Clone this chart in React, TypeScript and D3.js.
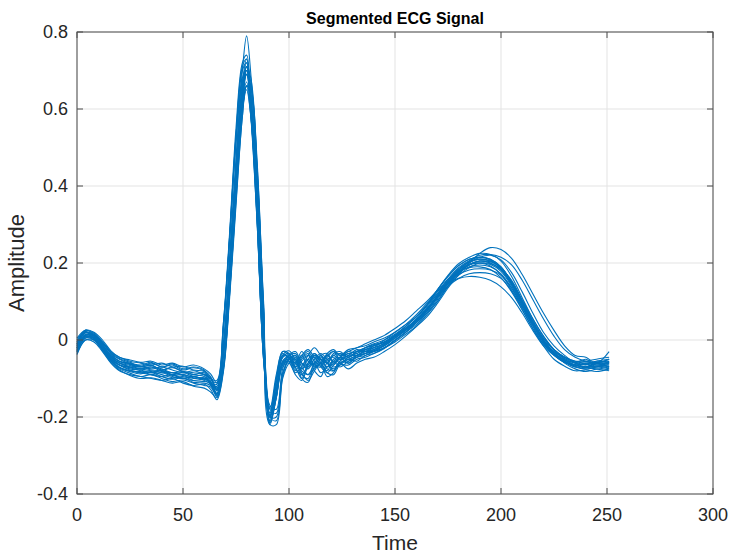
import * as d3 from "d3";

// sample positions shared by every beat (denser around the QRS complex)
const sampleIdx = [
  0, 4, 8, 12, 16, 20, 25, 30, 35, 40, 45, 50, 55, 60,
  63, 66, 69, 72, 75, 78, 80, 82, 85, 88, 91, 94, 97, 100,
  103, 106, 109, 112, 115, 118, 121, 124, 128, 132, 136, 140,
  145, 150, 155, 160, 165, 170, 175, 180, 185, 190, 195, 200, 205, 210, 215,
  220, 225, 230, 235, 240, 245, 251,
];

// one array per segmented beat (rows: baseline / QRS / post-S / T wave)
const beat01 = [
  -0.02,0.02,0.012,-0.012,-0.04,-0.055,-0.06,-0.065,-0.058,-0.07,-0.065,-0.078,-0.072,-0.08,
  -0.095,-0.125,-0.02,0.21,0.47,0.7,0.79,0.69,0.4,0.03,-0.2,-0.13,-0.045,-0.035,
  -0.06,-0.04,-0.07,-0.05,-0.045,-0.06,-0.04,-0.05,-0.035,-0.04,-0.025,-0.02,
  -0.01,0.005,0.025,0.05,0.08,0.115,0.15,0.178,0.195,0.205,0.203,0.188,0.152,0.1,0.045,0.0,-0.03,-0.045,-0.055,-0.055,-0.06,-0.05,
];
const beat02 = [
  -0.01,0.025,0.015,-0.008,-0.035,-0.05,-0.062,-0.07,-0.065,-0.078,-0.07,-0.082,-0.09,-0.085,
  -0.115,-0.12,0.03,0.27,0.53,0.71,0.73,0.61,0.31,-0.05,-0.2,-0.1,-0.04,-0.045,
  -0.08,-0.05,-0.035,-0.07,-0.06,-0.04,-0.055,-0.035,-0.045,-0.03,-0.03,-0.02,
  0.0,0.02,0.04,0.06,0.09,0.13,0.168,0.198,0.215,0.225,0.222,0.205,0.165,0.11,0.055,0.01,-0.025,-0.05,-0.065,-0.062,-0.07,-0.058,
];
const beat03 = [
  -0.03,0.008,0.005,-0.02,-0.05,-0.07,-0.08,-0.085,-0.09,-0.085,-0.095,-0.1,-0.095,-0.105,
  -0.115,-0.148,-0.075,0.13,0.38,0.62,0.71,0.68,0.46,0.09,-0.2,-0.2,-0.09,-0.05,
  -0.045,-0.09,-0.1,-0.06,-0.05,-0.075,-0.08,-0.055,-0.06,-0.045,-0.04,-0.03,
  -0.02,0.0,0.02,0.04,0.07,0.1,0.14,0.175,0.2,0.215,0.22,0.208,0.175,0.125,0.07,0.02,-0.015,-0.04,-0.06,-0.07,-0.065,-0.07,
];
const beat04 = [
  -0.015,0.02,0.01,-0.015,-0.042,-0.06,-0.07,-0.075,-0.07,-0.082,-0.09,-0.085,-0.095,-0.1,
  -0.1,-0.13,-0.03,0.19,0.44,0.64,0.71,0.63,0.38,0.01,-0.19,-0.13,-0.055,-0.04,
  -0.035,-0.06,-0.065,-0.04,-0.05,-0.07,-0.06,-0.045,-0.05,-0.04,-0.035,-0.03,
  -0.02,-0.005,0.015,0.035,0.06,0.095,0.135,0.17,0.2,0.225,0.24,0.235,0.212,0.17,0.12,0.07,0.025,-0.015,-0.04,-0.045,-0.06,-0.03,
];
const beat05 = [
  0.0,0.022,0.002,-0.025,-0.05,-0.065,-0.07,-0.068,-0.078,-0.08,-0.085,-0.092,-0.1,-0.098,
  -0.108,-0.14,-0.035,0.19,0.44,0.64,0.7,0.62,0.37,0.0,-0.21,-0.14,-0.06,-0.05,
  -0.07,-0.1,-0.06,-0.035,-0.06,-0.08,-0.05,-0.045,-0.06,-0.04,-0.03,-0.03,
  -0.012,0.01,0.03,0.055,0.09,0.13,0.165,0.193,0.21,0.215,0.208,0.185,0.145,0.095,0.04,-0.005,-0.035,-0.055,-0.068,-0.076,-0.07,-0.065,
];
const beat06 = [
  -0.025,0.012,0.012,-0.008,-0.032,-0.048,-0.058,-0.068,-0.06,-0.07,-0.062,-0.075,-0.07,-0.078,
  -0.1,-0.105,0.04,0.26,0.51,0.67,0.69,0.58,0.3,-0.04,-0.18,-0.09,-0.03,-0.04,
  -0.07,-0.045,-0.03,-0.055,-0.065,-0.04,-0.03,-0.05,-0.04,-0.025,-0.03,-0.015,
  -0.005,0.012,0.03,0.05,0.08,0.115,0.155,0.185,0.203,0.21,0.205,0.188,0.15,0.1,0.05,0.005,-0.025,-0.045,-0.055,-0.06,-0.055,-0.05,
];
const beat07 = [
  -0.038,0.0,-0.005,-0.03,-0.06,-0.08,-0.09,-0.095,-0.1,-0.105,-0.1,-0.112,-0.118,-0.115,
  -0.128,-0.155,-0.085,0.11,0.35,0.58,0.66,0.65,0.43,0.07,-0.22,-0.22,-0.1,-0.06,
  -0.05,-0.1,-0.11,-0.07,-0.065,-0.095,-0.085,-0.06,-0.075,-0.06,-0.05,-0.045,
  -0.03,-0.012,0.01,0.035,0.065,0.1,0.14,0.173,0.195,0.205,0.2,0.182,0.145,0.095,0.042,-0.002,-0.035,-0.06,-0.075,-0.082,-0.076,-0.08,
];
const beat08 = [
  -0.005,0.026,0.02,0.0,-0.028,-0.045,-0.052,-0.058,-0.055,-0.065,-0.06,-0.07,-0.065,-0.075,
  -0.088,-0.112,-0.01,0.2,0.44,0.62,0.67,0.6,0.36,0.02,-0.175,-0.12,-0.04,-0.028,
  -0.05,-0.065,-0.04,-0.02,-0.04,-0.055,-0.035,-0.03,-0.045,-0.03,-0.02,-0.012,
  -0.005,0.01,0.025,0.045,0.07,0.105,0.14,0.168,0.188,0.2,0.198,0.185,0.155,0.105,0.055,0.01,-0.025,-0.045,-0.058,-0.05,-0.065,-0.055,
];
const beat09 = [
  -0.022,0.014,0.005,-0.022,-0.052,-0.072,-0.082,-0.088,-0.084,-0.095,-0.102,-0.098,-0.11,-0.112,
  -0.118,-0.138,-0.04,0.17,0.41,0.6,0.66,0.58,0.34,-0.01,-0.215,-0.15,-0.07,-0.06,
  -0.085,-0.07,-0.05,-0.08,-0.095,-0.06,-0.07,-0.065,-0.05,-0.055,-0.04,-0.035,
  -0.022,0.0,0.02,0.045,0.075,0.11,0.145,0.173,0.19,0.195,0.19,0.172,0.135,0.085,0.035,-0.01,-0.04,-0.058,-0.065,-0.07,-0.06,-0.065,
];
const beat10 = [
  -0.01,0.02,0.01,-0.02,-0.045,-0.06,-0.066,-0.075,-0.07,-0.075,-0.085,-0.082,-0.09,-0.095,
  -0.112,-0.125,0.02,0.27,0.53,0.7,0.72,0.6,0.31,-0.04,-0.2,-0.11,-0.035,-0.05,
  -0.06,-0.03,-0.055,-0.065,-0.04,-0.035,-0.06,-0.045,-0.03,-0.035,-0.02,-0.01,
  0.0,0.015,0.035,0.06,0.09,0.125,0.158,0.178,0.188,0.19,0.183,0.162,0.125,0.078,0.03,-0.01,-0.035,-0.052,-0.06,-0.065,-0.055,-0.06,
];
const beat11 = [
  -0.035,0.0,0.0,-0.025,-0.055,-0.072,-0.08,-0.082,-0.09,-0.095,-0.09,-0.1,-0.105,-0.102,
  -0.112,-0.142,-0.04,0.19,0.45,0.66,0.72,0.63,0.38,0.0,-0.215,-0.15,-0.065,-0.055,
  -0.075,-0.09,-0.065,-0.045,-0.07,-0.085,-0.065,-0.05,-0.055,-0.045,-0.035,-0.025,
  -0.008,0.012,0.035,0.06,0.09,0.12,0.15,0.17,0.182,0.185,0.182,0.168,0.135,0.09,0.04,-0.005,-0.035,-0.058,-0.07,-0.07,-0.075,-0.07,
];
const beat12 = [
  -0.015,0.02,0.015,-0.005,-0.035,-0.055,-0.062,-0.068,-0.075,-0.07,-0.078,-0.085,-0.08,-0.09,
  -0.098,-0.128,-0.065,0.14,0.38,0.61,0.7,0.67,0.45,0.1,-0.17,-0.18,-0.075,-0.04,
  -0.03,-0.06,-0.075,-0.05,-0.035,-0.05,-0.065,-0.045,-0.035,-0.03,-0.025,-0.015,
  -0.005,0.01,0.03,0.05,0.08,0.11,0.14,0.16,0.172,0.175,0.172,0.16,0.128,0.085,0.04,0.0,-0.03,-0.048,-0.06,-0.055,-0.05,-0.045,
];
const beat13 = [
  -0.02,0.01,0.0,-0.02,-0.05,-0.065,-0.072,-0.08,-0.085,-0.08,-0.09,-0.1,-0.095,-0.102,
  -0.108,-0.132,-0.03,0.19,0.44,0.64,0.69,0.61,0.36,-0.005,-0.2,-0.14,-0.06,-0.045,
  -0.05,-0.075,-0.06,-0.04,-0.055,-0.045,-0.03,-0.04,-0.025,-0.02,-0.01,0.0,
  0.012,0.03,0.05,0.075,0.1,0.128,0.148,0.16,0.165,0.163,0.155,0.138,0.11,0.07,0.025,-0.015,-0.04,-0.058,-0.065,-0.06,-0.065,-0.06,
];
const beat14 = [
  -0.03,0.005,0.005,-0.02,-0.045,-0.06,-0.07,-0.075,-0.08,-0.085,-0.085,-0.09,-0.095,-0.09,
  -0.1,-0.13,-0.035,0.18,0.42,0.6,0.65,0.58,0.35,0.0,-0.195,-0.135,-0.055,-0.045,
  -0.07,-0.055,-0.04,-0.065,-0.07,-0.05,-0.045,-0.06,-0.045,-0.035,-0.025,-0.02,
  -0.01,0.01,0.03,0.05,0.08,0.115,0.15,0.178,0.195,0.2,0.196,0.178,0.14,0.09,0.04,-0.005,-0.035,-0.052,-0.065,-0.07,-0.06,-0.07,
];
const beat15 = [
  -0.032,0.005,0.0,-0.028,-0.058,-0.078,-0.092,-0.1,-0.098,-0.105,-0.112,-0.108,-0.12,-0.125,
  -0.135,-0.15,-0.08,0.12,0.37,0.6,0.69,0.66,0.44,0.08,-0.2,-0.21,-0.095,-0.05,
  -0.04,-0.085,-0.105,-0.08,-0.06,-0.085,-0.09,-0.065,-0.065,-0.05,-0.045,-0.035,
  -0.02,-0.002,0.02,0.045,0.075,0.11,0.15,0.182,0.202,0.21,0.205,0.185,0.148,0.1,0.048,0.0,-0.033,-0.055,-0.07,-0.075,-0.07,-0.075,
];
const beat16 = [
  0.005,0.025,0.018,-0.005,-0.03,-0.045,-0.055,-0.06,-0.065,-0.06,-0.07,-0.068,-0.078,-0.082,
  -0.105,-0.11,0.04,0.28,0.55,0.72,0.74,0.62,0.32,-0.05,-0.19,-0.1,-0.03,-0.035,
  -0.065,-0.04,-0.025,-0.045,-0.06,-0.035,-0.025,-0.04,-0.03,-0.02,-0.015,-0.005,
  0.005,0.02,0.04,0.065,0.095,0.13,0.165,0.193,0.21,0.215,0.21,0.19,0.15,0.1,0.048,0.005,-0.025,-0.045,-0.058,-0.064,-0.058,-0.055,
];
const beat17 = [
  -0.028,0.01,0.004,-0.024,-0.055,-0.075,-0.086,-0.095,-0.09,-0.1,-0.108,-0.104,-0.112,-0.118,
  -0.122,-0.145,-0.045,0.18,0.44,0.65,0.71,0.63,0.37,0.0,-0.21,-0.145,-0.065,-0.055,
  -0.09,-0.105,-0.07,-0.06,-0.085,-0.07,-0.055,-0.07,-0.055,-0.045,-0.035,-0.028,
  -0.015,0.005,0.025,0.05,0.08,0.115,0.153,0.182,0.197,0.2,0.192,0.17,0.13,0.08,0.03,-0.015,-0.05,-0.068,-0.08,-0.078,-0.082,-0.075,
];
const beat18 = [
  -0.012,0.018,0.012,-0.012,-0.04,-0.056,-0.064,-0.07,-0.066,-0.078,-0.072,-0.082,-0.085,-0.09,
  -0.112,-0.115,0.03,0.26,0.52,0.68,0.7,0.59,0.3,-0.05,-0.2,-0.11,-0.045,-0.04,
  -0.055,-0.075,-0.05,-0.035,-0.05,-0.06,-0.04,-0.035,-0.045,-0.03,-0.02,-0.015,
  -0.005,0.012,0.03,0.052,0.08,0.112,0.148,0.18,0.205,0.22,0.222,0.215,0.195,0.155,0.105,0.055,0.01,-0.025,-0.045,-0.055,-0.06,-0.05,
];
const beat19 = [
  -0.025,0.012,0.008,-0.018,-0.048,-0.065,-0.075,-0.078,-0.085,-0.08,-0.092,-0.09,-0.098,-0.1,
  -0.11,-0.14,-0.025,0.2,0.46,0.67,0.73,0.64,0.39,0.01,-0.22,-0.15,-0.06,-0.05,
  -0.06,-0.08,-0.09,-0.06,-0.04,-0.06,-0.075,-0.055,-0.04,-0.04,-0.03,-0.025,
  -0.012,0.008,0.028,0.052,0.085,0.12,0.158,0.188,0.206,0.215,0.21,0.19,0.15,0.1,0.045,0.0,-0.032,-0.052,-0.065,-0.07,-0.068,-0.07,
];
const beat20 = [
  -0.02,0.015,0.01,-0.015,-0.045,-0.065,-0.078,-0.085,-0.082,-0.09,-0.098,-0.095,-0.105,-0.108,
  -0.112,-0.14,-0.075,0.12,0.36,0.58,0.66,0.64,0.43,0.08,-0.18,-0.19,-0.085,-0.05,
  -0.04,-0.07,-0.09,-0.075,-0.05,-0.06,-0.08,-0.06,-0.05,-0.04,-0.035,-0.025,
  -0.015,0.005,0.025,0.045,0.075,0.11,0.145,0.175,0.196,0.205,0.2,0.182,0.145,0.095,0.042,-0.005,-0.038,-0.058,-0.065,-0.072,-0.06,-0.06,
];

const beats = [
  beat01, beat02, beat03, beat04, beat05, beat06, beat07, beat08, beat09, beat10,
  beat11, beat12, beat13, beat14, beat15, beat16, beat17, beat18, beat19, beat20,
];

const xTicks = [0, 50, 100, 150, 200, 250, 300];
const yTicks = [-0.4, -0.2, 0, 0.2, 0.4, 0.6, 0.8];

const W = 732;
const H = 554;
const margin = { top: 32, right: 19, bottom: 60, left: 77 };
const font = "'Liberation Sans', Arial, sans-serif";
const axisColor = "#4d4d4d";
const textColor = "#262626";
const lineColor = "#0072BD";

export default function App() {
  const x = d3
    .scaleLinear()
    .domain([0, 300])
    .range([margin.left, W - margin.right]);
  const y = d3
    .scaleLinear()
    .domain([-0.4, 0.8])
    .range([H - margin.bottom, margin.top]);

  const line = d3
    .line<number>()
    .x((_, i) => x(sampleIdx[i]))
    .y((d) => y(d))
    .curve(d3.curveCatmullRom.alpha(0.5));

  const [x0, x1] = x.range();
  const [y0, y1] = y.range();
  const tick = 6;
  const fmt = (v: number) => (v === 0 ? "0" : v.toFixed(1));

  return (
    <svg
      width={W}
      height={H}
      style={{ position: "absolute", left: 0, top: 0, background: "#fff" }}
      fontFamily={font}
    >
      <rect width={W} height={H} fill="#fff" />
      {/* grid */}
      <g stroke="#e3e3e3" strokeWidth={1}>
        {xTicks.map((t) => (
          <line key={"gx" + t} x1={x(t)} x2={x(t)} y1={y1} y2={y0} />
        ))}
        {yTicks.map((t) => (
          <line key={"gy" + t} x1={x0} x2={x1} y1={y(t)} y2={y(t)} />
        ))}
      </g>

      {/* segmented beats */}
      <g fill="none" stroke={lineColor} strokeWidth={1.1}>
        {beats.map((b, i) => (
          <path key={i} d={line(b) ?? ""} />
        ))}
      </g>

      {/* axes box and ticks */}
      <g stroke={axisColor} strokeWidth={1} fill="none">
        <rect x={x0} y={y1} width={x1 - x0} height={y0 - y1} />
        {xTicks.map((t) => (
          <g key={"tx" + t}>
            <line x1={x(t)} x2={x(t)} y1={y0} y2={y0 - tick} />
            <line x1={x(t)} x2={x(t)} y1={y1} y2={y1 + tick} />
          </g>
        ))}
        {yTicks.map((t) => (
          <g key={"ty" + t}>
            <line x1={x0} x2={x0 + tick} y1={y(t)} y2={y(t)} />
            <line x1={x1} x2={x1 - tick} y1={y(t)} y2={y(t)} />
          </g>
        ))}
      </g>

      <g fill={textColor} fontSize={18}>
        {xTicks.map((t) => (
          <text key={"lx" + t} x={x(t)} y={y0 + 27} textAnchor="middle">
            {t}
          </text>
        ))}
        {yTicks.map((t) => (
          <text key={"ly" + t} x={x0 - 9} y={y(t)} dy="0.35em" textAnchor="end">
            {fmt(t)}
          </text>
        ))}
      </g>

      <text
        x={(x0 + x1) / 2}
        y={24}
        textAnchor="middle"
        fontWeight="bold"
        fontSize={16}
        fill="#000"
      >
        Segmented ECG Signal
      </text>
      <text x={(x0 + x1) / 2} y={550} textAnchor="middle" fontSize={21} fill={textColor}>
        Time
      </text>
      <text
        transform={`translate(24,${(y0 + y1) / 2}) rotate(-90)`}
        textAnchor="middle"
        fontSize={22}
        fill={textColor}
      >
        Amplitude
      </text>
    </svg>
  );
}
